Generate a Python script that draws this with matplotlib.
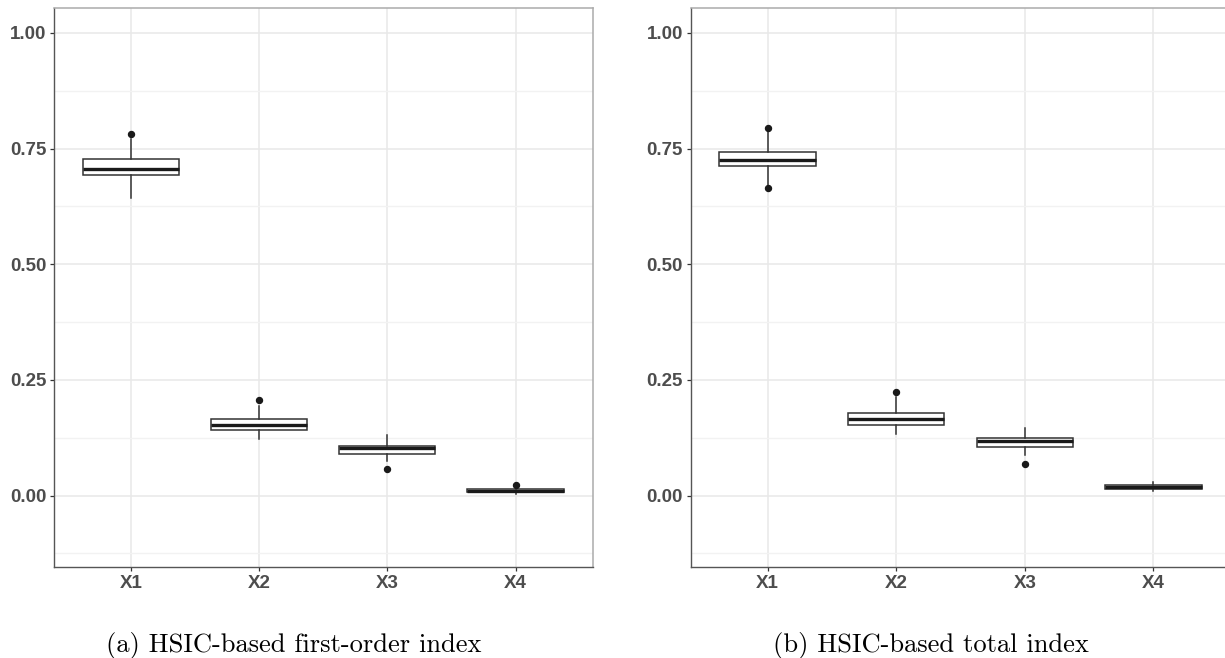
import matplotlib
matplotlib.use("Agg")
import matplotlib.pyplot as plt
from matplotlib.ticker import FixedLocator

# categories and box statistics
labels = ["X1", "X2", "X3", "X4"]

# (a) first-order index
first_whislo = [0.644, 0.122, 0.0745, 0.004]
first_q1 = [0.693, 0.142, 0.089, 0.0068]
first_med = [0.706, 0.153, 0.1026, 0.0105]
first_q3 = [0.727, 0.165, 0.108, 0.0144]
first_whishi = [0.771, 0.194, 0.130, 0.018]
first_fliers = [[0.781], [0.207], [0.058], [0.0235]]

# (b) total index
total_whislo = [0.670, 0.133, 0.0874, 0.0097]
total_q1 = [0.712, 0.153, 0.105, 0.0146]
total_med = [0.725, 0.166, 0.118, 0.019]
total_q3 = [0.743, 0.1775, 0.125, 0.023]
total_whishi = [0.786, 0.213, 0.146, 0.030]
total_fliers = [[0.795, 0.664], [0.224], [0.068], []]

captions = ["(a) HSIC-based first-order index", "(b) HSIC-based total index"]

W, H = 1225, 658
fig = plt.figure(figsize=(W / 100, H / 100), dpi=100)


def make_stats(lo, q1, med, q3, hi, fl):
    out = []
    for i in range(len(lo)):
        out.append(dict(whislo=lo[i], q1=q1[i], med=med[i], q3=q3[i],
                        whishi=hi[i], fliers=fl[i], label=labels[i]))
    return out


def draw_panel(rect, stats, caption, cap_x):
    ax = fig.add_axes(rect)
    ax.set_facecolor("white")
    ax.bxp(stats, positions=range(1, len(stats) + 1), widths=0.75,
           patch_artist=True, showcaps=False, zorder=3,
           boxprops=dict(facecolor="white", edgecolor="#333333", linewidth=1.1),
           medianprops=dict(color="#1A1A1A", linewidth=2.4),
           whiskerprops=dict(color="#333333", linewidth=1.1),
           flierprops=dict(marker="o", markersize=4.3, markerfacecolor="#1A1A1A",
                           markeredgecolor="#1A1A1A"))
    ax.set_xlim(0.4, 4.6)
    ax.set_ylim(-0.155, 1.055)
    ax.set_yticks([0.0, 0.25, 0.5, 0.75, 1.0])
    ax.set_yticklabels(["0.00", "0.25", "0.50", "0.75", "1.00"])
    ax.yaxis.set_minor_locator(FixedLocator([-0.125, 0.125, 0.375, 0.625, 0.875]))
    ax.set_xticks(range(1, 5))
    ax.set_xticklabels(labels)
    ax.grid(which="major", color="#E8E8E8", linewidth=1.1, zorder=0)
    ax.grid(which="minor", axis="y", color="#F2F2F2", linewidth=1.0, zorder=0)
    ax.set_axisbelow(True)
    ax.tick_params(axis="both", which="major", length=2.7, width=0.9,
                   color="#333333", labelcolor="#4D4D4D", pad=2.8, labelsize=13.5)
    ax.tick_params(axis="y", which="minor", length=0)
    for lab in ax.get_xticklabels() + ax.get_yticklabels():
        lab.set_fontweight("bold")
        lab.set_family(["Liberation Sans", "DejaVu Sans"])
    for side in ["top", "right"]:
        ax.spines[side].set_color("#ABABAB")
        ax.spines[side].set_linewidth(1.1)
    for side in ["left", "bottom"]:
        ax.spines[side].set_color("#555555")
        ax.spines[side].set_linewidth(1.0)
    fig.text(cap_x / W, 1 - 652 / H, caption, ha="center", va="baseline",
             fontsize=19.1, family="cmr10")
    return ax


bottom = 1 - 567.3 / H
height = (567.3 - 7.5) / H
draw_panel([54 / W, bottom, 538.5 / W, height],
           make_stats(first_whislo, first_q1, first_med, first_q3, first_whishi, first_fliers),
           captions[0], 293.5)
draw_panel([690.5 / W, bottom, 540 / W, height],
           make_stats(total_whislo, total_q1, total_med, total_q3, total_whishi, total_fliers),
           captions[1], 931)

fig.savefig("out.png", dpi=100)
